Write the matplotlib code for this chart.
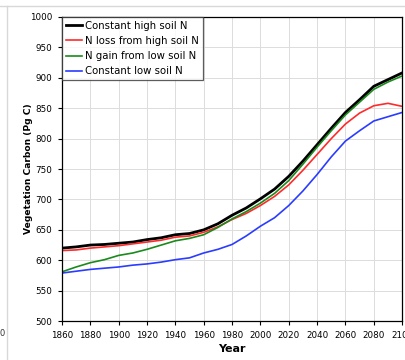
import matplotlib
matplotlib.use("Agg")
import matplotlib.pyplot as plt
from matplotlib.lines import Line2D

years = [1860, 1870, 1880, 1890, 1900, 1910, 1920, 1930, 1940, 1950, 1960, 1970,
         1980, 1990, 2000, 2010, 2020, 2030, 2040, 2050, 2060, 2070, 2080, 2090, 2100]

const_high = [620, 622, 625, 626, 628, 630, 634, 637, 642, 644, 650, 660,
              674, 686, 701, 717, 738, 763, 790, 817, 843, 864, 886, 897, 908]
n_loss_high = [616, 617, 620, 622, 624, 627, 630, 633, 638, 640, 646, 655,
               667, 677, 690, 705, 724, 748, 774, 800, 824, 842, 854, 858, 853]
n_gain_low = [581, 589, 596, 601, 608, 612, 618, 625, 632, 636, 642, 654,
              668, 680, 694, 710, 731, 758, 786, 813, 839, 860, 881, 893, 903]
const_low = [579, 582, 585, 587, 589, 592, 594, 597, 601, 604, 612, 618,
             626, 640, 656, 670, 690, 714, 741, 770, 796, 813, 829, 836, 843]

labels = ["Constant high soil N", "N loss from high soil N",
          "N gain from low soil N", "Constant low soil N"]
colors = ["#000000", "#ff2a2a", "#1a8a1a", "#2a3cff"]
widths = [2.0, 1.2, 1.2, 1.2]

xticks = list(range(1860, 2101, 20))
yticks = list(range(500, 1001, 50))

fig = plt.figure(figsize=(4.05, 3.6), dpi=100)
ax = fig.add_axes([0.153, 0.108, 0.840, 0.845])

series = [const_high, n_loss_high, n_gain_low, const_low]
for s, c, w, lab in zip(series, colors, widths, labels):
    ax.plot(years, s, color=c, lw=w, label=lab)

ax.set_xlim(1860, 2100)
ax.set_ylim(500, 1000)
ax.set_xticks(xticks)
ax.set_yticks(yticks)
ax.set_xticklabels([str(t) for t in xticks], fontsize=6.3)
ax.set_yticklabels([str(t) for t in yticks], fontsize=6.3)
ax.tick_params(direction="out", length=3, width=0.8, pad=4)
ax.grid(True, color="#dcdcdc", lw=0.7)
ax.set_axisbelow(True)
for sp in ax.spines.values():
    sp.set_linewidth(0.9)

ax.set_xlabel("Year", fontsize=8, fontweight="bold", labelpad=3)
ax.set_ylabel("Vegetation Carbon (Pg C)", fontsize=6.6, fontweight="bold", labelpad=-2)

handles = [Line2D([], [], color=c, lw=w) for c, w in zip(colors, [2.0, 1.2, 1.2, 1.2])]
leg = ax.legend(handles, labels, loc="upper left", fontsize=7.3, frameon=True,
                fancybox=False, borderaxespad=0, handlelength=1.6,
                handletextpad=0.3, labelspacing=0.5, borderpad=0.4)
leg.get_frame().set_edgecolor("#333333")
leg.get_frame().set_linewidth(0.9)

# faint image border remnants
fig.add_artist(Line2D([0, 1], [0.984, 0.984], color="#d8d8d8", lw=1, transform=fig.transFigure))
fig.add_artist(Line2D([0.018, 0.018], [0, 0.984], color="#d8d8d8", lw=1, transform=fig.transFigure))
fig.text(0.0, 0.075, "0", fontsize=6, ha="left", va="center", color="#333333")

fig.savefig("out.png", dpi=100)
